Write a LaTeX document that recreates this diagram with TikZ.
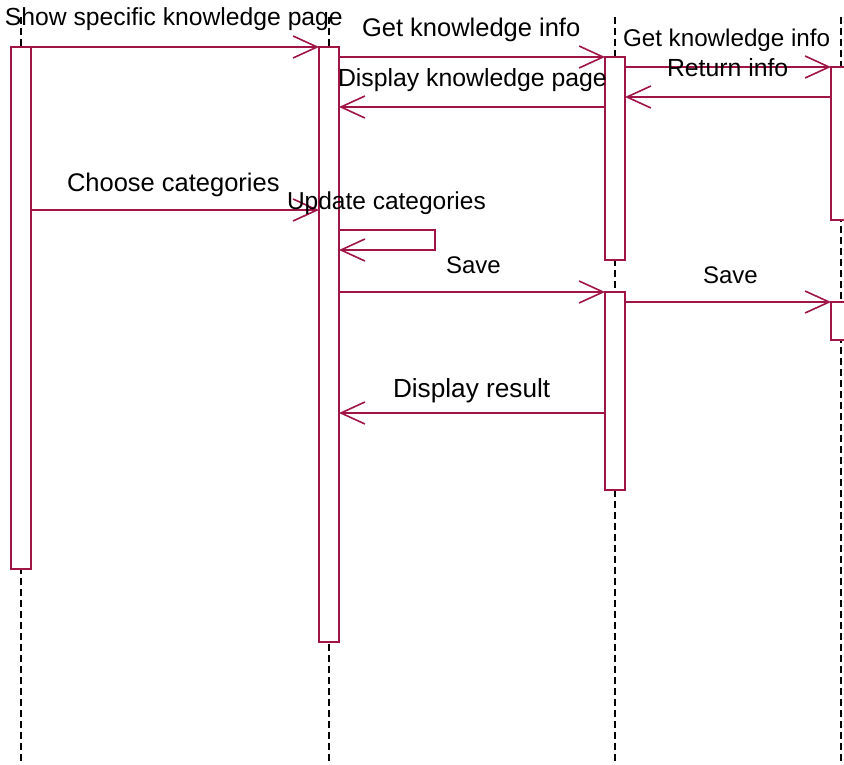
\documentclass[tikz,border=0pt]{standalone}
\usepackage{fontspec}
\setmainfont{Liberation Sans}
\usetikzlibrary{arrows.meta}
\definecolor{seq}{RGB}{160,20,70}
\begin{document}
\begin{tikzpicture}[x=1pt,y=-1pt,
  life/.style={draw=black, line width=1.5pt, dash pattern=on 7pt off 4pt},
  act/.style={rectangle, draw=seq, fill=white, line width=1.6pt, minimum width=20pt, inner sep=0pt, outer sep=0pt},
  msg/.style={draw=seq, line width=1.6pt, -{Straight Barb[length=24pt,width=22pt]}},
  lbl/.style={anchor=base west, inner sep=0pt, outer sep=0pt, text=black},
  fs/.style={font=\fontsize{#1}{#1}\selectfont}]
\useasboundingbox (0,0) rectangle (844,765);
% lifelines
\foreach \n/\x in {1/21,2/329,3/615,4/841}{
  \coordinate (l\n t) at (\x,17);
  \coordinate (l\n b) at (\x,765);
  \draw[life] (l\n t) -- (l\n b);
}
% activation boxes
\node[act, minimum height=522pt] (a1) at (21,308) {};
\node[act, minimum height=595pt] (a2) at (329,344.5) {};
\node[act, minimum height=203pt] (a3a) at (615,158.5) {};
\node[act, minimum height=198pt] (a3b) at (615,391) {};
\node[act, minimum height=153pt] (a4a) at (841,143.5) {};
\node[act, minimum height=38pt] (a4b) at (841,321) {};
% messages
\draw[msg] (a1.north west) -- (a2.north west);
\draw[msg] (a2.east |- 0,57) -- (a3a.north west);
\draw[msg] (a3a.east |- 0,67) -- (a4a.north west);
\draw[msg] (a4a.west |- 0,97) -- (a3a.east |- 0,97);
\draw[msg] (a3a.west |- 0,107) -- (a2.east |- 0,107);
\draw[msg] (a1.east |- 0,210) -- (a2.west |- 0,210);
\coordinate (s1) at (435,230);
\coordinate (s2) at (435,250);
\draw[msg] (a2.east |- s1) -- (s1) -- (s2) -- (a2.east |- s2);
\draw[msg] (a2.east |- 0,292) -- (a3b.north west);
\draw[msg] (a3b.east |- 0,302) -- (a4b.north west);
\draw[msg] (a3b.west |- 0,413) -- (a2.east |- 0,413);
% labels
\node[lbl, fs=24.7] (t1) at (5,26) {Show specific knowledge page};
\node[lbl, fs=25.5] (t2) at (362,37) {Get knowledge info};
\node[lbl, fs=24.2] (t3) at (623,47) {Get knowledge info};
\node[lbl, fs=24.8] (t4) at (667,77) {Return info};
\node[lbl, fs=24.8] (t5) at (338,87) {Display knowledge page};
\node[lbl, fs=25.5] (t6) at (67,192) {Choose categories};
\node[lbl, fs=24.5] (t7) at (287,210) {Update categories};
\node[lbl, fs=24] (t8) at (446,273) {Save};
\node[lbl, fs=24] (t9) at (703,283) {Save};
\node[lbl, fs=26.2] (t10) at (393,397) {Display result};
\end{tikzpicture}
\end{document}
